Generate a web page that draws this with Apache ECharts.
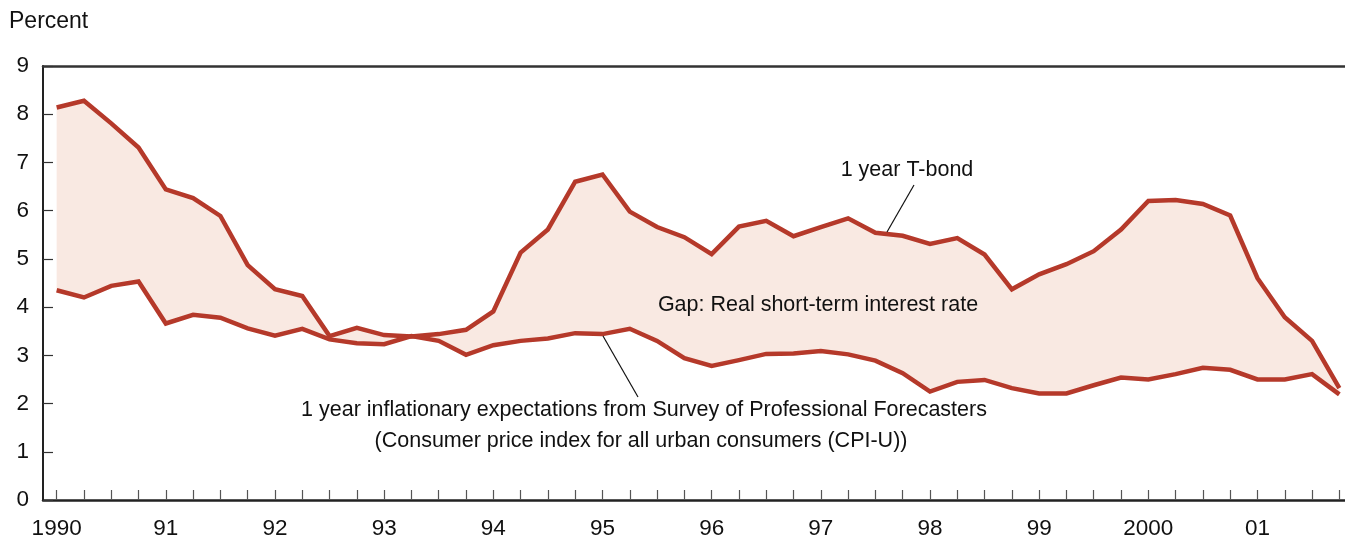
<!DOCTYPE html>
<html>
<head>
<meta charset="utf-8">
<script src="https://cdn.jsdelivr.net/npm/echarts@6/dist/echarts.min.js"></script>
<style>
  html, body { margin: 0; padding: 0; background: #fff; }
  #chart { width: 1345px; height: 540px; }
</style>
</head>
<body>
<div id="chart"></div>
<script>
// year labels, one per year; the data is quarterly (1990 Q1 .. 2001 Q4)
const yearLabels = ['1990', '91', '92', '93', '94', '95', '96', '97', '98', '99', '2000', '01'];
const quarters = yearLabels.flatMap((y) => [y + ' Q1', y + ' Q2', y + ' Q3', y + ' Q4']);

// 1 year T-bond, percent
const tBond = [
  8.14, 8.28, 7.81, 7.31, 6.44, 6.26, 5.89, 4.87,
  4.37, 4.23, 3.40, 3.57, 3.42, 3.39, 3.44, 3.53,
  3.91, 5.13, 5.61, 6.60, 6.75, 5.98, 5.66, 5.45,
  5.10, 5.67, 5.79, 5.47, 5.66, 5.84, 5.54, 5.48,
  5.31, 5.43, 5.09, 4.37, 4.68, 4.89, 5.16, 5.61,
  6.20, 6.22, 6.14, 5.90, 4.60, 3.79, 3.30, 2.32,
];

// 1 year inflationary expectations (SPF, CPI-U), percent
const inflation = [
  4.35, 4.20, 4.44, 4.53, 3.66, 3.84, 3.78, 3.56,
  3.41, 3.55, 3.33, 3.25, 3.23, 3.40, 3.30, 3.01,
  3.21, 3.30, 3.35, 3.46, 3.44, 3.55, 3.30, 2.94,
  2.78, 2.90, 3.03, 3.04, 3.09, 3.02, 2.89, 2.63,
  2.25, 2.45, 2.49, 2.32, 2.21, 2.21, 2.38, 2.54,
  2.50, 2.61, 2.74, 2.70, 2.50, 2.50, 2.61, 2.19,
];

const yTicks = [0, 1, 2, 3, 4, 5, 6, 7, 8, 9];

const lineColor = '#b5392a';
const fillColor = '#f9e9e2';
const axisColor = '#222';
const font = '"Liberation Sans", Arial, sans-serif';

// gap between the two lines, stacked on top of inflation to draw the band
const gap = tBond.map((v, i) => +(v - inflation[i]).toFixed(2));

const chart = echarts.init(document.getElementById('chart'));

const annoText = (text, x, y) => ({
  type: 'text',
  x: x,
  y: y,
  style: { text: text, fontSize: 21.5, fontFamily: font, fill: '#111', align: 'center', verticalAlign: 'middle' },
  z: 10,
});

const opt = {
  animation: false,
  grid: {
    left: 43,
    top: 66,
    bottom: 40,
    width: 1310,
    outerBoundsMode: 'none',
    containLabel: false,
  },
  xAxis: [
    {
      type: 'category',
      data: quarters,
      boundaryGap: true,
      axisLine: { show: true, lineStyle: { color: axisColor, width: 2.5 } },
      axisTick: {
        show: true,
        inside: true,
        alignWithLabel: true,
        interval: 0,
        length: 10,
        lineStyle: { color: '#555', width: 1.2 },
      },
      axisLabel: {
        interval: 3,
        margin: 17,
        color: '#111',
        fontSize: 22.5,
        fontFamily: font,
        formatter: (v) => v.split(' ')[0],
      },
      splitLine: { show: false },
    },
    {
      // top border at 9
      type: 'category',
      position: 'top',
      data: quarters,
      axisLine: { show: true, lineStyle: { color: '#333', width: 2.5 } },
      axisTick: { show: false },
      axisLabel: { show: false },
    },
  ],
  yAxis: {
    type: 'value',
    min: yTicks[0],
    max: yTicks[yTicks.length - 1],
    interval: 1,
    axisLine: { show: true, lineStyle: { color: axisColor, width: 2 } },
    axisTick: { show: true, inside: true, length: 10, lineStyle: { color: '#333', width: 1.2 } },
    axisLabel: {
      margin: 14,
      color: '#111',
      fontSize: 22.5,
      fontFamily: font,
    },
    splitLine: { show: false },
  },
  series: [
    {
      name: 'base',
      type: 'line',
      data: inflation,
      stack: 'band',
      stackStrategy: 'all',
      symbol: 'none',
      lineStyle: { opacity: 0 },
      silent: true,
      z: 1,
    },
    {
      name: 'Gap',
      type: 'line',
      data: gap,
      stack: 'band',
      stackStrategy: 'all',
      symbol: 'none',
      lineStyle: { opacity: 0 },
      areaStyle: { color: fillColor, opacity: 1 },
      silent: true,
      z: 1,
    },
    {
      name: '1 year T-bond',
      type: 'line',
      data: tBond,
      symbol: 'none',
      lineStyle: { color: lineColor, width: 4.5, join: 'miter' },
      z: 3,
    },
    {
      name: '1 year inflationary expectations',
      type: 'line',
      data: inflation,
      symbol: 'none',
      lineStyle: { color: lineColor, width: 4.5, join: 'miter' },
      z: 3,
    },
  ],
  graphic: [
    {
      type: 'text',
      x: 9,
      y: 22,
      style: { text: 'Percent', fontSize: 23, fontFamily: font, fill: '#111', verticalAlign: 'middle' },
    },
    annoText('1 year T-bond', 907, 170),
    {
      type: 'line',
      shape: { x1: 914, y1: 185, x2: 887, y2: 232 },
      style: { stroke: '#111', lineWidth: 1.2 },
      z: 10,
    },
    annoText('Gap: Real short-term interest rate', 818, 305),
    {
      type: 'line',
      shape: { x1: 603, y1: 336, x2: 638, y2: 397 },
      style: { stroke: '#111', lineWidth: 1.2 },
      z: 10,
    },
    annoText('1 year inflationary expectations from Survey of Professional Forecasters', 644, 410),
    annoText('(Consumer price index for all urban consumers (CPI-U))', 641, 441),
  ],
};

chart.setOption(opt);
</script>
</body>
</html>
